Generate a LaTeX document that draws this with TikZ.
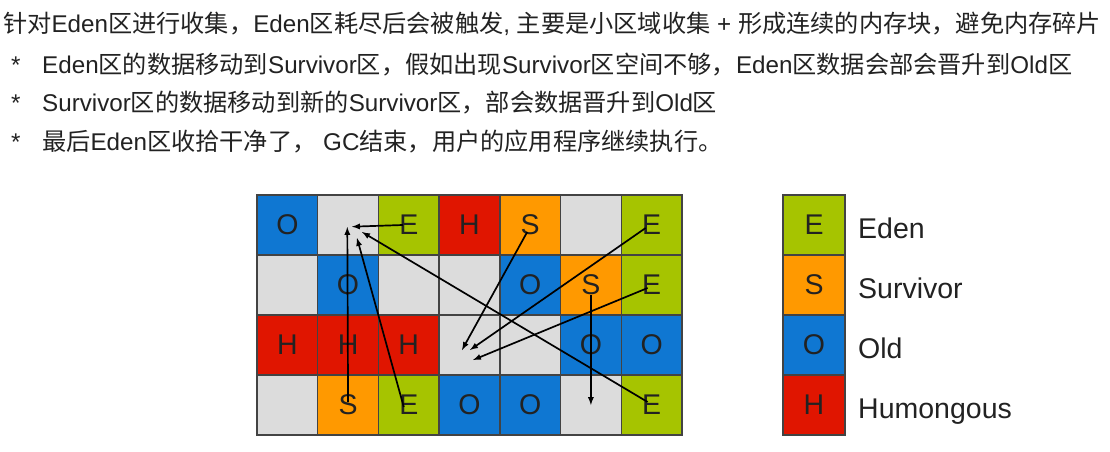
\documentclass[tikz,border=0pt]{standalone}
\usepackage{fontspec}
\setmainfont{Liberation Sans}
\newfontfamily\cjk{Noto Sans CJK SC}
\usepackage{xcolor}
\definecolor{edenc}{HTML}{A6C400}
\definecolor{survc}{HTML}{FF9900}
\definecolor{oldc}{HTML}{0F77D2}
\definecolor{humc}{HTML}{E01500}
\definecolor{freec}{HTML}{DCDCDC}
\definecolor{inkc}{HTML}{222222}
\newcommand{\zh}[1]{{\cjk #1}}
\tikzset{
  cell/.style={draw=inkc!85, line width=1.5pt, minimum width=60.7pt, minimum height=60pt,
    inner sep=0pt, outer sep=0pt, text=inkc, font=\fontsize{28.5}{30}\selectfont},
  tE/.style={fill=edenc}, tS/.style={fill=survc}, tO/.style={fill=oldc},
  tH/.style={fill=humc}, tN/.style={fill=freec},
  line/.style={anchor=base west, inner sep=0pt, text=inkc, font=\fontsize{24.2}{26}\selectfont},
  legtext/.style={anchor=base west, inner sep=0pt, text=inkc, font=\fontsize{28.5}{30}\selectfont},
  move/.style={-latex, line width=1.7pt, black}
}
\begin{document}
\begin{tikzpicture}[x=1pt,y=-1pt]
		\useasboundingbox[fill=white] (0,0) rectangle (1110,452);
		% text above the picture
		\node[line] (head) at (3,33) {\zh{针对}Eden\zh{区进行收集，}Eden\zh{区耗尽后会被触发}, \zh{主要是小区域收集} + \zh{形成连续的内存块，避免内存碎片}};
		\foreach \y in {74,111,150}{% the three stars
			\node[line] at (11,\y) {*};
		}
		\node[line] (item1) at (42,74) {Eden\zh{区的数据移动到}Survivor\zh{区，假如出现}Survivor\zh{区空间不够，}Eden\zh{区数据会部会晋升到}Old\zh{区}};
		\node[line] (item2) at (42,111) {Survivor\zh{区的数据移动到新的}Survivor\zh{区，部会数据晋升到}Old\zh{区}};
		\node[line] (item3) at (42,150) {\zh{最后}Eden\zh{区收拾干净了，} GC\zh{结束，用户的应用程序继续执行。}};

		% the regions, row by row
		\foreach \row [count=\r from 0] in {{O,N,E,H,S,N,E},{N,O,N,N,O,S,E},{H,H,H,N,N,O,O},{N,S,E,O,O,N,E}}{
		  \foreach \k [count=\c from 0] in \row {
			\node[cell,t\k] (c\r\c) at (287.35+60.71*\c,225+60*\r) {\if\k N\else\k\fi};
		  }
		}

		% where the moves end
		\coordinate (tA) at (352,226.7);
		\coordinate (tB) at (347.3,227);
		\coordinate (tC) at (357,238);
		\coordinate (tD) at (362,232);
		\coordinate (tE) at (462,350);
		\coordinate (tF) at (470,350);
		\coordinate (tG) at (473,360);
		\draw[move] ([xshift=-6pt]c02.center) -- (tA);
		\draw[move] ([yshift=3pt]c31.center) -- (tB);
		\draw[move] ([xshift=-5pt,yshift=-2pt]c32.center) -- (tC);
		\draw[move] ([xshift=-4pt,yshift=3pt]c36.center) -- (tD);
		\draw[move] ([xshift=-3pt,yshift=-7pt]c04.center) -- (tE);
		\draw[move] ([xshift=-6pt,yshift=-3pt]c06.center) -- (tF);
		\draw[move] ([xshift=-4pt,yshift=-3pt]c16.center) -- (tG);
		\draw[move] ([yshift=-10pt]c15.center) -- (c35.center);

		% legend
		\foreach \k/\name [count=\i from 0] in {E/Eden,S/Survivor,O/Old,H/Humongous}{
			\node[cell,t\k,minimum width=62pt] (l\i) at (814,225+60*\i) {\k};
			\node[legtext] (n\i) at (858,238+60*\i) {\name};
		}
\end{tikzpicture}
\end{document}
